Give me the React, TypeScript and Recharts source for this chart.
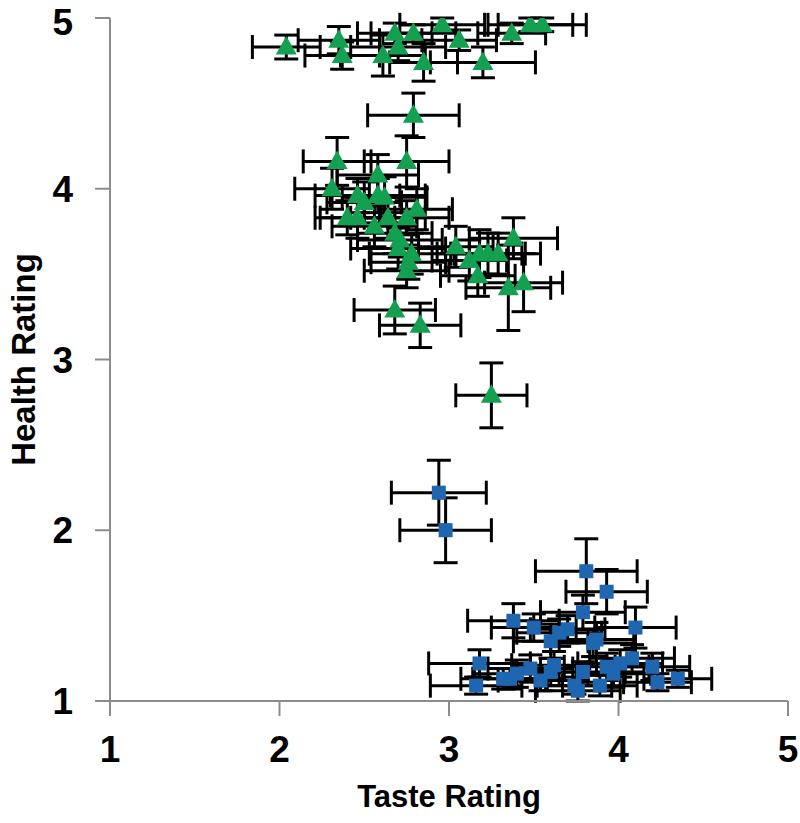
import React from 'react';
import {
  ScatterChart,
  Scatter,
  XAxis,
  YAxis,
  ErrorBar,
} from 'recharts';

// [taste, health, taste error, health error]
const healthyFoods: number[][] = [
  [2.04, 4.83, 0.2, 0.07],
  [2.35, 4.87, 0.24, 0.08],
  [2.37, 4.78, 0.22, 0.08],
  [2.61, 4.78, 0.25, 0.12],
  [2.68, 4.91, 0.22, 0.06],
  [2.7, 4.83, 0.28, 0.08],
  [2.79, 4.91, 0.25, 0.05],
  [2.85, 4.74, 0.2, 0.11],
  [2.96, 4.96, 0.25, 0.04],
  [3.06, 4.87, 0.22, 0.06],
  [3.2, 4.74, 0.31, 0.09],
  [3.37, 4.91, 0.2, 0.06],
  [3.48, 4.96, 0.25, 0.04],
  [3.55, 4.96, 0.26, 0.04],
  [2.79, 4.43, 0.27, 0.13],
  [2.34, 4.16, 0.2, 0.14],
  [2.75, 4.16, 0.25, 0.15],
  [2.58, 4.08, 0.24, 0.12],
  [2.31, 4.0, 0.22, 0.12],
  [2.46, 3.96, 0.25, 0.1],
  [2.5, 3.92, 0.22, 0.12],
  [2.58, 3.96, 0.28, 0.1],
  [2.62, 3.95, 0.25, 0.12],
  [2.4, 3.83, 0.19, 0.1],
  [2.46, 3.83, 0.22, 0.12],
  [2.56, 3.78, 0.25, 0.12],
  [2.64, 3.83, 0.22, 0.12],
  [2.75, 3.83, 0.25, 0.1],
  [2.81, 3.88, 0.21, 0.12],
  [2.68, 3.74, 0.22, 0.12],
  [2.71, 3.7, 0.25, 0.1],
  [2.7, 3.65, 0.28, 0.12],
  [2.78, 3.62, 0.25, 0.12],
  [2.76, 3.57, 0.22, 0.1],
  [2.75, 3.52, 0.25, 0.1],
  [3.04, 3.66, 0.22, 0.12],
  [3.12, 3.58, 0.22, 0.12],
  [3.18, 3.62, 0.25, 0.14],
  [3.23, 3.62, 0.22, 0.12],
  [3.29, 3.62, 0.25, 0.12],
  [3.38, 3.71, 0.26, 0.12],
  [3.17, 3.49, 0.22, 0.12],
  [3.35, 3.42, 0.25, 0.25],
  [3.44, 3.45, 0.23, 0.17],
  [2.68, 3.29, 0.24, 0.14],
  [2.83, 3.2, 0.24, 0.13],
  [3.25, 2.79, 0.21, 0.19],
];

const unhealthyFoods: number[][] = [
  [2.94, 2.22, 0.28, 0.19],
  [2.98, 2.0, 0.27, 0.19],
  [3.81, 1.76, 0.3, 0.19],
  [3.93, 1.64, 0.24, 0.13],
  [3.79, 1.52, 0.25, 0.1],
  [3.38, 1.47, 0.27, 0.1],
  [3.5, 1.43, 0.25, 0.08],
  [3.6, 1.35, 0.22, 0.1],
  [3.65, 1.4, 0.25, 0.08],
  [3.7, 1.42, 0.22, 0.08],
  [3.85, 1.34, 0.25, 0.08],
  [3.87, 1.36, 0.22, 0.1],
  [4.1, 1.43, 0.24, 0.12],
  [3.18, 1.22, 0.3, 0.08],
  [3.32, 1.13, 0.25, 0.06],
  [3.36, 1.13, 0.22, 0.06],
  [3.4, 1.16, 0.25, 0.08],
  [3.16, 1.09, 0.27, 0.05],
  [3.62, 1.21, 0.25, 0.08],
  [3.6, 1.17, 0.22, 0.08],
  [3.79, 1.17, 0.25, 0.06],
  [3.76, 1.06, 0.25, 0.06],
  [3.74, 1.09, 0.22, 0.05],
  [3.89, 1.09, 0.22, 0.06],
  [3.93, 1.2, 0.25, 0.08],
  [3.97, 1.16, 0.22, 0.08],
  [4.01, 1.22, 0.25, 0.08],
  [4.08, 1.25, 0.25, 0.08],
  [4.2, 1.2, 0.22, 0.08],
  [4.23, 1.11, 0.2, 0.05],
  [4.35, 1.13, 0.2, 0.05],
  [3.48, 1.19, 0.25, 0.08],
  [3.54, 1.12, 0.25, 0.06],
];

const axisTicks = [1, 2, 3, 4, 5];

const toRows = (list: number[][]) =>
  list.map(([taste, health, tasteErr, healthErr]) => ({ taste, health, tasteErr, healthErr }));

const GREEN = '#13a050';
const BLUE = '#1f66b1';
const AXIS = '#8c8c8c';
const FONT = '"Liberation Sans", Arial, sans-serif';

const Triangle = (props: any) => {
  const { cx, cy } = props;
  if (cx == null || cy == null) return null;
  return (
    <polygon
      points={`${cx},${cy - 11} ${cx + 10.5},${cy + 7.5} ${cx - 10.5},${cy + 7.5}`}
      fill={GREEN}
    />
  );
};

const Square = (props: any) => {
  const { cx, cy } = props;
  if (cx == null || cy == null) return null;
  return <rect x={cx - 7} y={cy - 7} width={14} height={14} fill={BLUE} />;
};

const bar = { width: 12, stroke: '#000', strokeWidth: 3, isAnimationActive: false };

export default function App() {
  return (
    <div style={{ position: 'absolute', left: 0, top: 0 }}>
      <ScatterChart
        width={800}
        height={823}
        margin={{ top: 18, right: 12, bottom: 12, left: 0 }}
      >
        <XAxis
          type="number"
          dataKey="taste"
          domain={[1, 5]}
          ticks={axisTicks}
          allowDataOverflow
          height={110}
          stroke={AXIS}
          strokeWidth={2}
          tickSize={15}
          tickMargin={20}
          tick={{ fontSize: 37, fontWeight: 'bold', fill: '#000', fontFamily: FONT }}
          label={{
            value: 'Taste Rating',
            position: 'insideBottom',
            offset: 4,
            style: { fontSize: 31, fontWeight: 'bold', fill: '#000', fontFamily: FONT },
          }}
        />
        <YAxis
          type="number"
          dataKey="health"
          domain={[1, 5]}
          ticks={axisTicks}
          allowDataOverflow
          width={110}
          stroke={AXIS}
          strokeWidth={2}
          tickSize={15}
          tickMargin={22}
          tick={{ fontSize: 37, fontWeight: 'bold', fill: '#000', fontFamily: FONT }}
          label={{
            value: 'Health Rating',
            angle: -90,
            position: 'insideLeft',
            offset: 23,
            style: { textAnchor: 'middle', fontSize: 33, fontWeight: 'bold', fill: '#000', fontFamily: FONT },
          }}
        />
        <Scatter data={toRows(healthyFoods)} shape={<Triangle />} isAnimationActive={false}>
          <ErrorBar dataKey="tasteErr" direction="x" {...bar} />
          <ErrorBar dataKey="healthErr" direction="y" {...bar} />
        </Scatter>
        <Scatter data={toRows(unhealthyFoods)} shape={<Square />} isAnimationActive={false}>
          <ErrorBar dataKey="tasteErr" direction="x" {...bar} />
          <ErrorBar dataKey="healthErr" direction="y" {...bar} />
        </Scatter>
      </ScatterChart>
    </div>
  );
}
